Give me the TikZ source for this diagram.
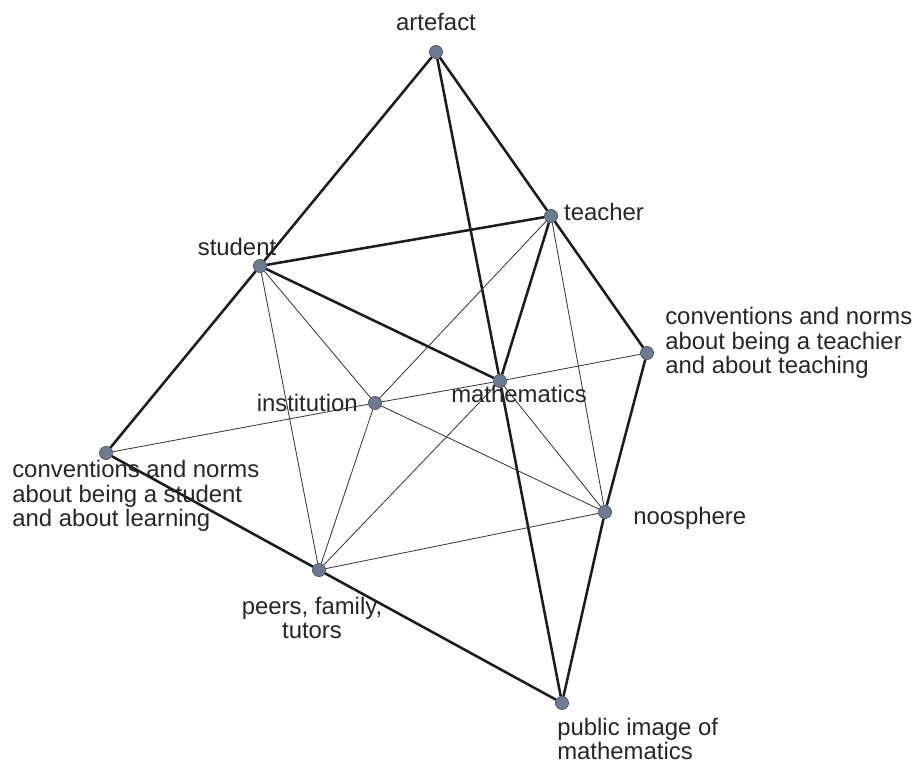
\documentclass[tikz,border=0pt]{standalone}
\usepackage{fontspec}
\setmainfont{Liberation Sans}
\usepackage{xcolor}
\definecolor{dotSlate}{HTML}{6B7B94}
\definecolor{dotRim}{HTML}{3F4A5C}
\definecolor{edgeDark}{HTML}{1C1C1C}
\definecolor{edgeThin}{HTML}{3A3A3A}
\usepackage{tikz}
\usetikzlibrary{positioning}

\tikzset{
    vertex/.style={circle, fill=dotSlate, draw=dotRim, line width=0.4pt, inner sep=0pt, minimum size=0.33cm},
    strongedge/.style={edgeDark, line width=1.8pt},
    weakedge/.style={edgeThin, line width=0.6pt},
    tag/.style={inner sep=0pt, font=\fontsize{17}{17.6}\selectfont, text=black!85}
}

\begin{document}
\begin{tikzpicture}
            \useasboundingbox (0,0) rectangle (22.85,19.1);
            % the ten vertices
            \node[vertex] (artefact) at (10.9,17.8) {};
            \node[vertex] (teacher) at (13.775,13.7) {};
            \node[vertex] (student) at (6.5,12.45) {};
            \node[vertex] (convT) at (16.175,10.275) {};
            \node[vertex] (maths) at (12.5,9.575) {};
            \node[vertex] (institution) at (9.375,9.025) {};
            \node[vertex] (convS) at (2.65,7.775) {};
            \node[vertex] (noosphere) at (15.125,6.3) {};
            \node[vertex] (peers) at (7.975,4.85) {};
            \node[vertex] (public) at (14.05,1.525) {};
            % edges
            \foreach \a/\b in {artefact/student, artefact/teacher, artefact/maths, student/teacher, student/maths, teacher/maths, teacher/convT, convT/noosphere, noosphere/public, student/convS, convS/peers, peers/public, maths/public}
                \draw[strongedge] (\a) -- (\b);
            \foreach \a/\b in {convS/institution, institution/maths, maths/convT, student/institution, student/peers, institution/teacher, institution/peers, institution/noosphere, peers/maths, peers/noosphere, maths/noosphere, teacher/noosphere}
                \draw[weakedge] (\a) -- (\b);
            % labels
            \node[tag] (artefactTag) at (10.9,18.55) {artefact};
            \node[tag] (teacherTag) at (15.1,13.8) {teacher};
            \node[tag] (studentTag) at (5.925,12.925) {student};
            \node[tag, anchor=west, align=left] (convTTag) at (16.625,10.525) {conventions and norms\\about being a teachier\\and about teaching};
            \node[tag] (mathsTag) at (12.975,9.25) {mathematics};
            \node[tag, anchor=east] (institutionTag) at (8.95,9.025) {institution};
            \node[tag, anchor=west, align=left] (convSTag) at (0.3,6.7) {conventions and norms\\about being a student\\and about learning};
            \node[tag, anchor=west] (noosphereTag) at (15.825,6.15) {noosphere};
            \node[tag, align=center] (peersTag) at (7.8,3.65) {peers, family,\\tutors};
            \node[tag, anchor=west, align=left, font=\fontsize{17}{16.8}\selectfont] (publicTag) at (13.925,0.62) {public image of\\mathematics};
        \end{tikzpicture}
\end{document}
